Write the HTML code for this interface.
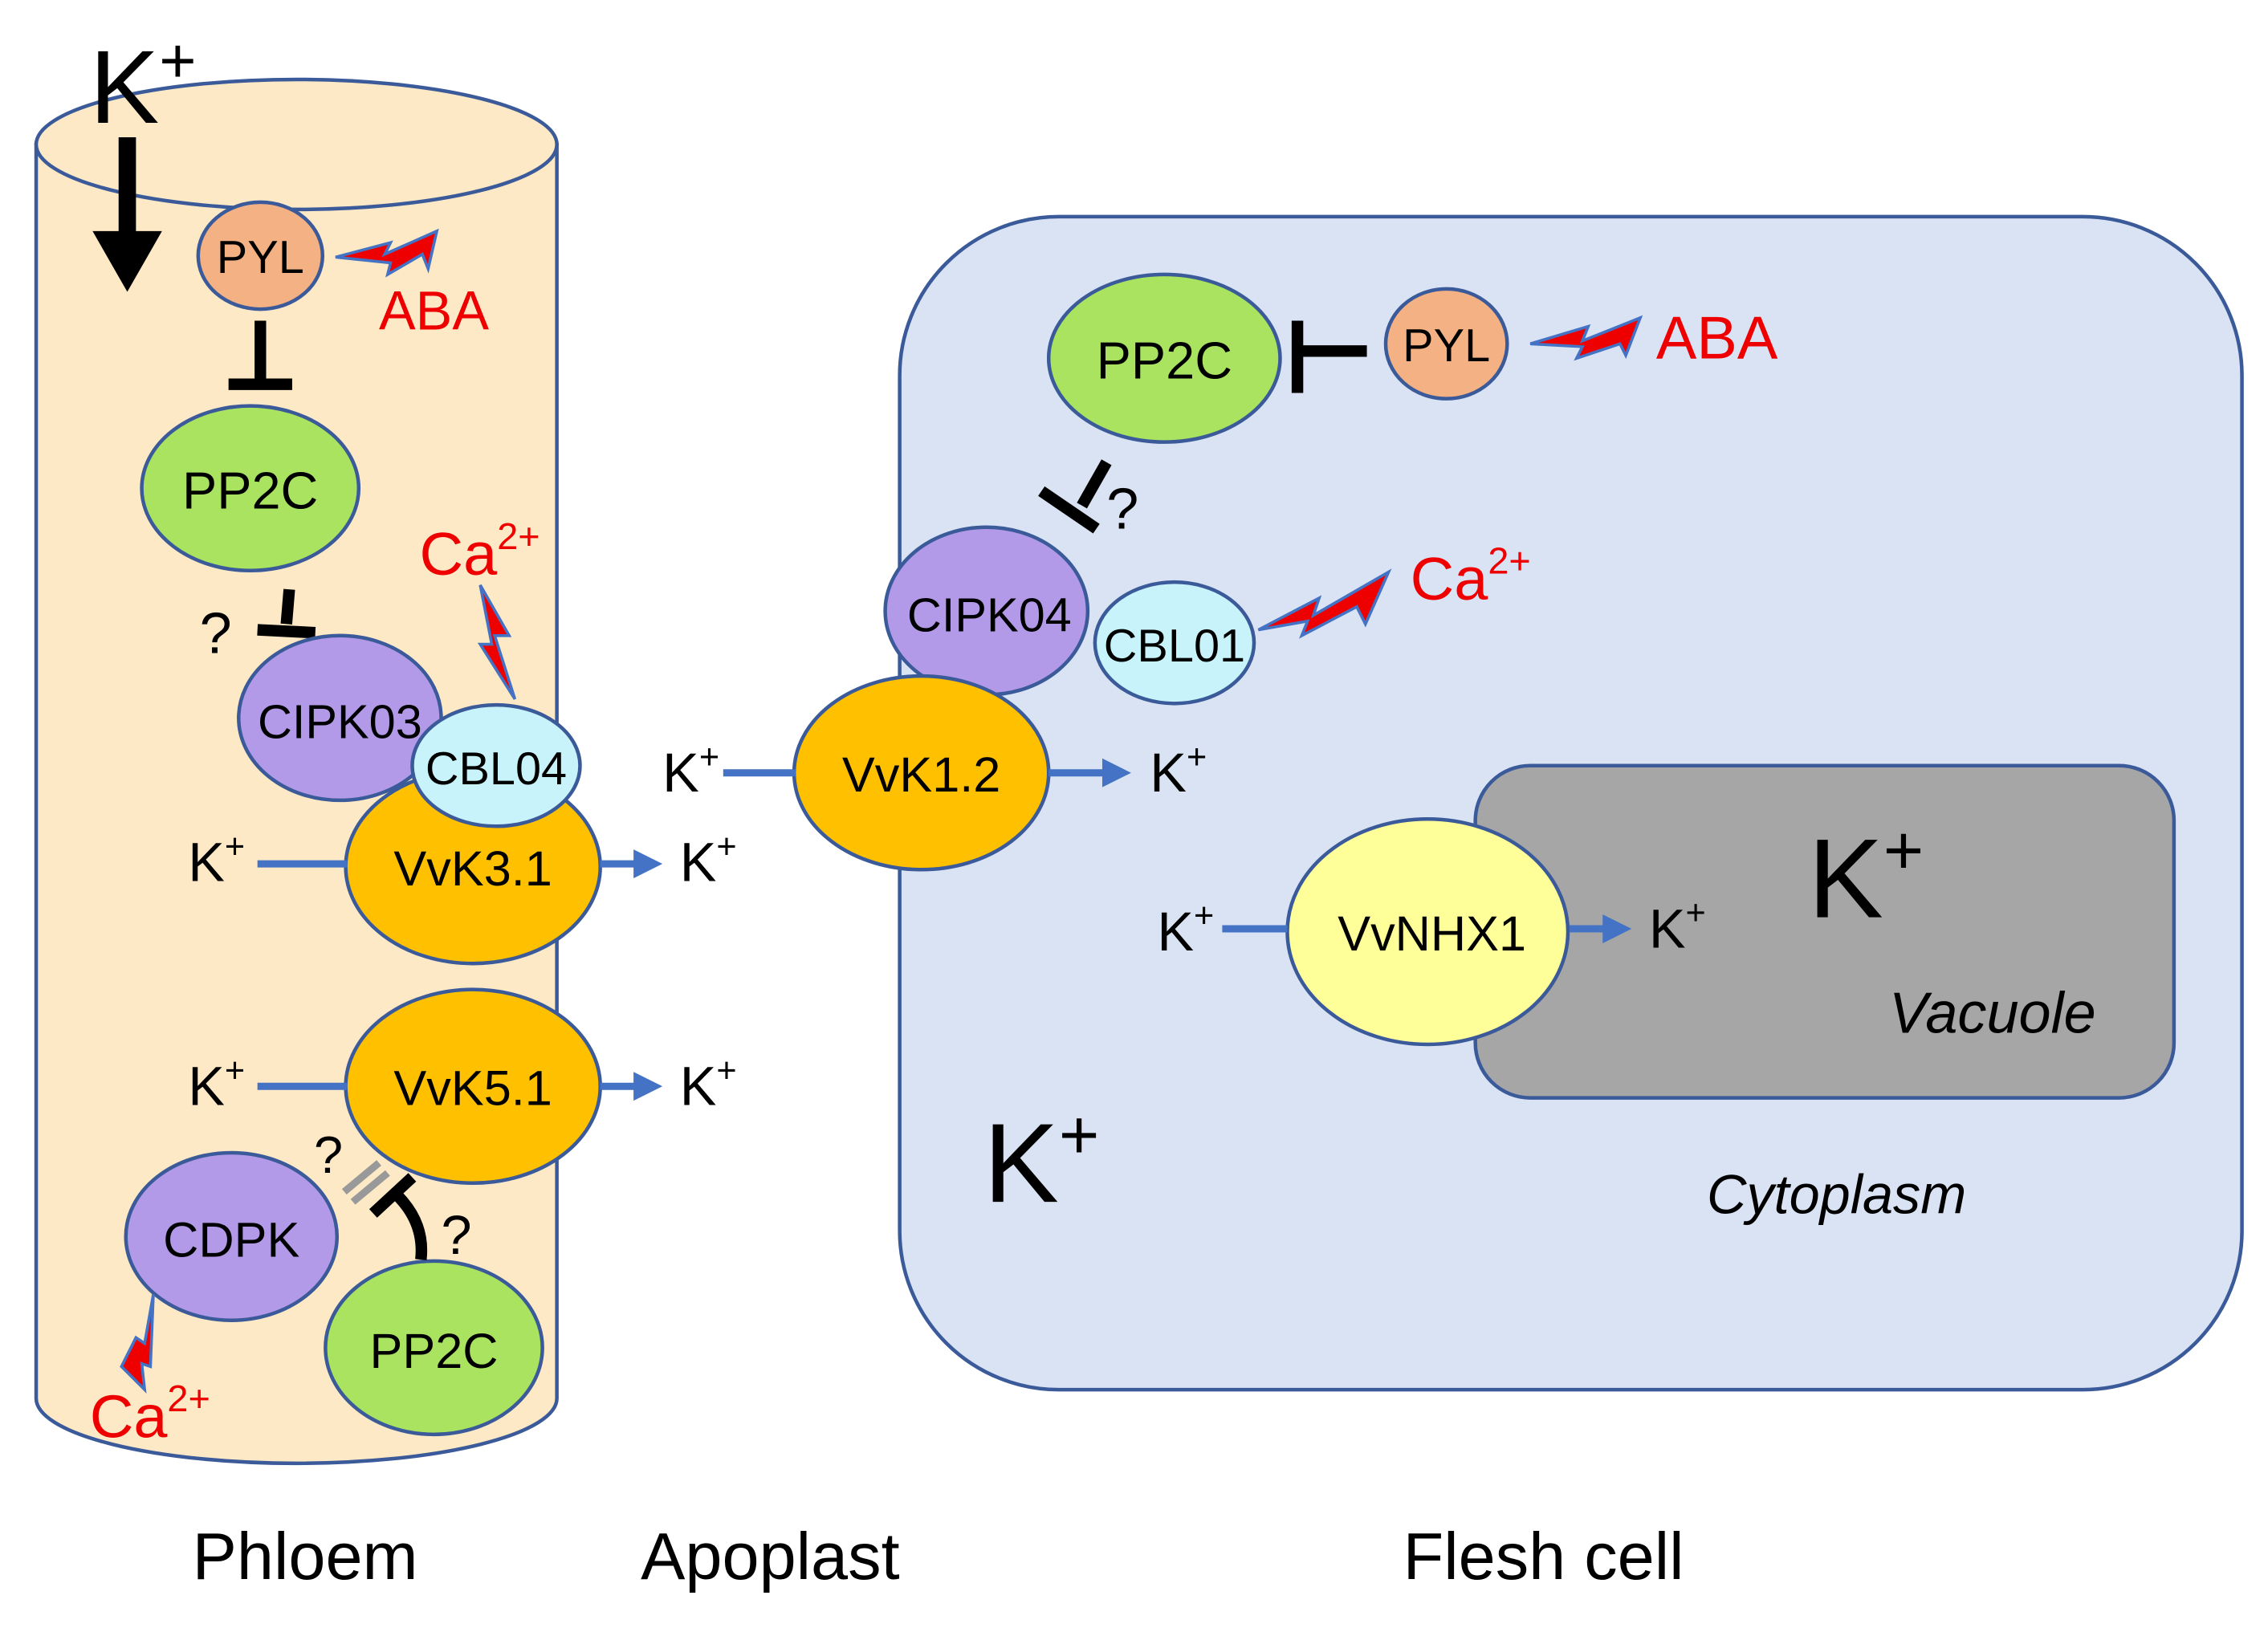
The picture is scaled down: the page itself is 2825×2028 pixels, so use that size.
<!DOCTYPE html>
<html><head><meta charset="utf-8"><style>
html,body{margin:0;padding:0;background:#fff;}
svg{display:block;}
text{font-family:"Liberation Sans",sans-serif;}
</style></head><body>
<svg width="2825" height="2028" viewBox="0 0 1568 1127" preserveAspectRatio="none" xmlns="http://www.w3.org/2000/svg">
<defs>
<marker id="ar" markerWidth="4" markerHeight="4" refX="2" refY="2" orient="auto" markerUnits="strokeWidth"><path d="M0,0 L4,2 L0,4 Z" fill="#4472c4"/></marker>
</defs>
<!-- Phloem cylinder -->
<path d="M25,100 L25,968 A180,45 0 0 0 385,968 L385,100 Z" fill="#fde9c6" stroke="#3b5a9a" stroke-width="2.5"/>
<ellipse cx="205" cy="100" rx="180" ry="45" fill="#fde9c6" stroke="#3b5a9a" stroke-width="2.5"/>
<text x="62" y="85" font-size="72">K<tspan font-size="44" dy="-28">+</tspan></text>
<path d="M82,95 L94,95 L94,160 L112,160 L88,202 L64,160 L82,160 Z" fill="#000"/>

<!-- Flesh cell -->
<rect x="622" y="150" width="928" height="812" rx="110" fill="#dae3f3" stroke="#3b5a9a" stroke-width="2.5"/>
<rect x="1020" y="530" width="483" height="230" rx="38" fill="#a6a6a6" stroke="#3b5a9a" stroke-width="2.5"/>
<text x="1250" y="635" font-size="78">K<tspan font-size="48" dy="-30">+</tspan></text>
<text x="1306" y="715" font-size="40" font-style="italic">Vacuole</text>
<text x="680" y="832" font-size="78">K<tspan font-size="48" dy="-30">+</tspan></text>
<text x="1180" y="840" font-size="38" font-style="italic">Cytoplasm</text>

<!-- Phloem nodes -->
<ellipse cx="180" cy="177" rx="43" ry="37" fill="#f4b183" stroke="#3b5a9a" stroke-width="2.5"/>
<text x="180" y="189" font-size="32" text-anchor="middle">PYL</text>
<path d="M232,178 L270,168 L266,176 L302,160 L296,186 L292,176 L268,190 L270,182 Z" fill="#e00" stroke="#4472c4" stroke-width="2"/>
<text x="262" y="228" font-size="38" fill="#e00">ABA</text>
<line x1="180" y1="222" x2="180" y2="264" stroke="#000" stroke-width="8"/>
<line x1="158" y1="266" x2="202" y2="266" stroke="#000" stroke-width="8"/>
<ellipse cx="173" cy="338" rx="75" ry="57" fill="#a9e35f" stroke="#3b5a9a" stroke-width="2.5"/>
<text x="173" y="352" font-size="36" text-anchor="middle">PP2C</text>
<text x="138" y="452" font-size="40">?</text>
<line x1="200" y1="408" x2="198" y2="432" stroke="#000" stroke-width="8"/>
<line x1="178" y1="436" x2="218" y2="438" stroke="#000" stroke-width="8"/>
<text x="290" y="398" font-size="42" fill="#e00">Ca<tspan font-size="26" dy="-18">2+</tspan></text>
<path d="M332,405 L352,440 L342,440 L356,484 L332,446 L340,446 Z" fill="#e00" stroke="#4472c4" stroke-width="2"/>
<ellipse cx="235" cy="497" rx="70" ry="57" fill="#b39ae8" stroke="#3b5a9a" stroke-width="2.5"/>
<text x="235" y="511" font-size="33" text-anchor="middle">CIPK03</text>
<ellipse cx="327" cy="600" rx="88" ry="67" fill="#ffc000" stroke="#3b5a9a" stroke-width="2.5"/>
<text x="327" y="613" font-size="34" text-anchor="middle">VvK3.1</text>
<ellipse cx="343" cy="530" rx="58" ry="42" fill="#c8f3fa" stroke="#3b5a9a" stroke-width="2.5"/>
<text x="343" y="543" font-size="32" text-anchor="middle">CBL04</text>
<text x="130" y="610" font-size="38">K<tspan font-size="24" dy="-16">+</tspan></text>
<line x1="178" y1="598" x2="240" y2="598" stroke="#4472c4" stroke-width="5"/>
<line x1="415" y1="598" x2="448" y2="598" stroke="#4472c4" stroke-width="5" marker-end="url(#ar)"/>
<text x="470" y="610" font-size="38">K<tspan font-size="24" dy="-16">+</tspan></text>

<ellipse cx="327" cy="752" rx="88" ry="67" fill="#ffc000" stroke="#3b5a9a" stroke-width="2.5"/>
<text x="327" y="765" font-size="34" text-anchor="middle">VvK5.1</text>
<text x="130" y="765" font-size="38">K<tspan font-size="24" dy="-16">+</tspan></text>
<line x1="178" y1="752" x2="240" y2="752" stroke="#4472c4" stroke-width="5"/>
<line x1="415" y1="752" x2="448" y2="752" stroke="#4472c4" stroke-width="5" marker-end="url(#ar)"/>
<text x="470" y="765" font-size="38">K<tspan font-size="24" dy="-16">+</tspan></text>

<ellipse cx="160" cy="856" rx="73" ry="58" fill="#b39ae8" stroke="#3b5a9a" stroke-width="2.5"/>
<text x="160" y="870" font-size="34" text-anchor="middle">CDPK</text>
<ellipse cx="300" cy="933" rx="75" ry="60" fill="#a9e35f" stroke="#3b5a9a" stroke-width="2.5"/>
<text x="300" y="947" font-size="34" text-anchor="middle">PP2C</text>
<text x="217" y="812" font-size="36">?</text>
<line x1="238" y1="825" x2="262" y2="805" stroke="#999" stroke-width="5"/>
<line x1="244" y1="832" x2="268" y2="812" stroke="#999" stroke-width="5"/>
<path d="M291,872 Q294,845 272,825" stroke="#000" stroke-width="8" fill="none"/>
<line x1="258" y1="840" x2="285" y2="815" stroke="#000" stroke-width="8"/>
<text x="305" y="868" font-size="38">?</text>
<path d="M106,896 L100,930 L94,926 L84,946 L100,962 L98,944 L104,946 Z" fill="#e00" stroke="#4472c4" stroke-width="2"/>
<text x="62" y="995" font-size="42" fill="#e00">Ca<tspan font-size="26" dy="-18">2+</tspan></text>

<!-- Flesh nodes -->
<ellipse cx="805" cy="248" rx="80" ry="58" fill="#a9e35f" stroke="#3b5a9a" stroke-width="2.5"/>
<text x="805" y="262" font-size="36" text-anchor="middle">PP2C</text>
<ellipse cx="1000" cy="238" rx="42" ry="38" fill="#f4b183" stroke="#3b5a9a" stroke-width="2.5"/>
<text x="1000" y="250" font-size="32" text-anchor="middle">PYL</text>
<line x1="945" y1="243" x2="900" y2="243" stroke="#000" stroke-width="8"/>
<line x1="897" y1="222" x2="897" y2="272" stroke="#000" stroke-width="8"/>
<path d="M1058,238 L1098,226 L1094,236 L1134,220 L1124,246 L1120,238 L1090,248 L1094,240 Z" fill="#e00" stroke="#4472c4" stroke-width="2"/>
<text x="1145" y="248" font-size="42" fill="#e00">ABA</text>
<line x1="765" y1="320" x2="748" y2="350" stroke="#000" stroke-width="8"/>
<line x1="720" y1="340" x2="758" y2="366" stroke="#000" stroke-width="8"/>
<text x="765" y="366" font-size="40">?</text>
<ellipse cx="682" cy="423" rx="70" ry="58" fill="#b39ae8" stroke="#3b5a9a" stroke-width="2.5"/>
<text x="684" y="437" font-size="33" text-anchor="middle">CIPK04</text>
<ellipse cx="637" cy="535" rx="88" ry="67" fill="#ffc000" stroke="#3b5a9a" stroke-width="2.5"/>
<text x="637" y="548" font-size="34" text-anchor="middle">VvK1.2</text>
<ellipse cx="812" cy="445" rx="55" ry="42" fill="#c8f3fa" stroke="#3b5a9a" stroke-width="2.5"/>
<text x="812" y="458" font-size="32" text-anchor="middle">CBL01</text>
<path d="M870,436 L912,414 L908,426 L960,396 L944,432 L938,420 L900,440 L904,430 Z" fill="#e00" stroke="#4472c4" stroke-width="2"/>
<text x="975" y="415" font-size="42" fill="#e00">Ca<tspan font-size="26" dy="-18">2+</tspan></text>
<text x="458" y="548" font-size="38">K<tspan font-size="24" dy="-16">+</tspan></text>
<line x1="500" y1="535" x2="550" y2="535" stroke="#4472c4" stroke-width="5"/>
<line x1="725" y1="535" x2="772" y2="535" stroke="#4472c4" stroke-width="5" marker-end="url(#ar)"/>
<text x="795" y="548" font-size="38">K<tspan font-size="24" dy="-16">+</tspan></text>
<ellipse cx="987" cy="645" rx="97" ry="78" fill="#ffff99" stroke="#3b5a9a" stroke-width="2.5"/>
<text x="990" y="658" font-size="34" text-anchor="middle">VvNHX1</text>
<text x="800" y="658" font-size="38">K<tspan font-size="24" dy="-16">+</tspan></text>
<line x1="845" y1="643" x2="890" y2="643" stroke="#4472c4" stroke-width="5"/>
<line x1="1085" y1="643" x2="1118" y2="643" stroke="#4472c4" stroke-width="5" marker-end="url(#ar)"/>
<text x="1140" y="656" font-size="38">K<tspan font-size="24" dy="-16">+</tspan></text>

<!-- Labels -->
<text x="133" y="1093" font-size="46">Phloem</text>
<text x="443" y="1093" font-size="46">Apoplast</text>
<text x="970" y="1093" font-size="46">Flesh cell</text>
</svg>
</body></html>
